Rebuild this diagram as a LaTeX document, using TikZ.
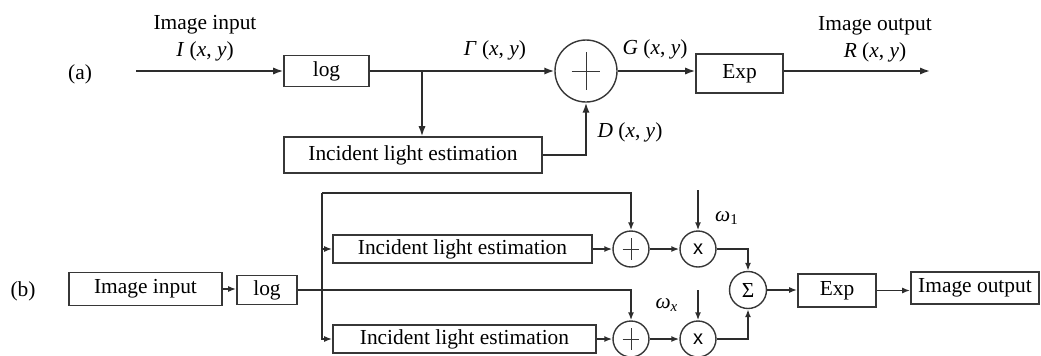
\documentclass[tikz,border=0pt]{standalone}
\usepackage{fontspec}
\setmainfont{Liberation Serif}
\setsansfont{Liberation Sans}
\usepackage{tikz}
\usetikzlibrary{arrows.meta, positioning, calc}
\definecolor{linegray}{RGB}{45, 45, 45}
\definecolor{boxgray}{RGB}{55, 55, 55}
\tikzset{
    blk/.style={
        rectangle,
        draw=boxgray,
        line width=0.8pt,
        inner sep=0pt,
        align=center
    },
    sumnode/.style={
        circle,
        draw=boxgray,
        line width=0.7pt,
        minimum size=#1,
        inner sep=0pt,
        path picture={
            \draw[line width=0.5pt, boxgray]
                ($(path picture bounding box.west)!0.27!(path picture bounding box.east)$) --
                ($(path picture bounding box.west)!0.73!(path picture bounding box.east)$)
                ($(path picture bounding box.south)!0.2!(path picture bounding box.north)$) --
                ($(path picture bounding box.south)!0.8!(path picture bounding box.north)$);
        }
    },
    mulnode/.style={
        circle,
        draw=boxgray,
        line width=0.7pt,
        minimum size=#1,
        inner sep=0pt
    },
    bus/.style={
        -{Latex[length=5pt, width=3.6pt]},
        line width=0.8pt,
        draw=linegray
    },
    busb/.style={
        -{Latex[length=4pt, width=3pt]},
        line width=0.8pt,
        draw=linegray
    }
}

\begin{document}
\begin{tikzpicture}[
        x=0.5pt, y=-0.5pt,
        font=\fontsize{10.7pt}{13.5pt}\selectfont
    ]
    \useasboundingbox (0,0) rectangle (1041,355);
    \clip (0,0) rectangle (1041,355);

    % (a) single scale
    \node (taga) at (80,74) {(a)};
    \coordinate (ina) at (136,71);
    \node[blk, minimum width=42.5pt, minimum height=15.5pt] (loga) at (326.5,71) {log};
    \node[blk, minimum width=129pt, minimum height=18pt] (esta) at (413,155) {Incident light estimation};
    \node[sumnode=31pt] (suma) at (586,71) {};
    \node[blk, minimum width=43.5pt, minimum height=19.5pt] (expa) at (739.5,73.5) {Exp};
    \coordinate (outa) at (930,71);
    \coordinate (tapa) at (422,71);

    \node[align=center] (inlbla) at (205,38.5) {Image input\\\textit{I} (\textit{x}, \textit{y})};
    \node (gammalbl) at (495,50) {\textit{Γ} (\textit{x}, \textit{y})};
    \node (glbl) at (655,49) {\textit{G} (\textit{x}, \textit{y})};
    \node[align=center] (outlbla) at (875,39.5) {Image output\\\textit{R} (\textit{x}, \textit{y})};
    \node (dlbl) at (630,132) {\textit{D} (\textit{x}, \textit{y})};

    \draw[bus] (ina) -- (loga.west);
    \draw[bus] (loga.east) -- (suma.west);
    \draw[bus] (tapa) -- (tapa |- esta.north);
    \draw[bus] (esta.east) -| (suma.south);
    \draw[bus] (suma.east) -- (suma.east -| expa.west);
    \draw[bus] (expa.east |- suma.east) -- (outa);

    % (b) multi scale
    \node (tagb) at (23,291) {(b)};
    \node[blk, minimum width=76.5pt, minimum height=16.5pt] (inb) at (145.5,289) {Image input};
    \node[blk, minimum width=30pt, minimum height=14.5pt] (logb) at (267,290) {log};
    \node[blk, minimum width=129.5pt, minimum height=14pt] (est1) at (462.5,249) {Incident light estimation};
    \node[blk, minimum width=131.5pt, minimum height=14pt] (est2) at (464.5,339) {Incident light estimation};
    \node[sumnode=18pt] (plus1) at (631,249) {};
    \node[sumnode=18pt] (plus2) at (631,339) {};
    \node[mulnode=18pt, font=\sffamily] (mul1) at (698,249) {x};
    \node[mulnode=18pt, font=\sffamily] (mul2) at (698,339) {x};
    \node[mulnode=18.5pt] (sig) at (748,290) {Σ};
    \node[blk, minimum width=39pt, minimum height=16.5pt] (expb) at (837,290.5) {Exp};
    \node[blk, minimum width=64pt, minimum height=16pt] (outb) at (975,288) {Image output};
    \coordinate (split) at (322,193);
    \coordinate (w1src) at (698,190);
    \coordinate (wxsrc) at (698,290);
    \node (w1lbl) at (727,218) {\textit{ω}\textsubscript{1}};
    \node (wxlbl) at (667,305) {\textit{ω}\textsubscript{\textit{x}}};

    \draw[busb] (inb.east) -- (inb.east -| logb.west);
    \draw[busb] (logb.east) -| (plus2.north);
    \draw[busb] (split) -| (plus1.north);
    \draw[busb] (split) |- (est1.west);
    \draw[busb] (split) |- (est2.west);
    \draw[busb] (est1.east) -- (plus1.west);
    \draw[busb] (est2.east) -- (plus2.west);
    \draw[busb] (plus1.east) -- (mul1.west);
    \draw[busb] (plus2.east) -- (mul2.west);
    \draw[busb] (w1src) -- (mul1.north);
    \draw[busb] (wxsrc) -- (mul2.north);
    \draw[busb] (mul1.east) -| (sig.north);
    \draw[busb] (mul2.east) -| (sig.south);
    \draw[busb] (sig.east) -- (sig.east -| expb.west);
    \draw[busb] (expb.east) -- (expb.east -| outb.west);
\end{tikzpicture}
\end{document}
